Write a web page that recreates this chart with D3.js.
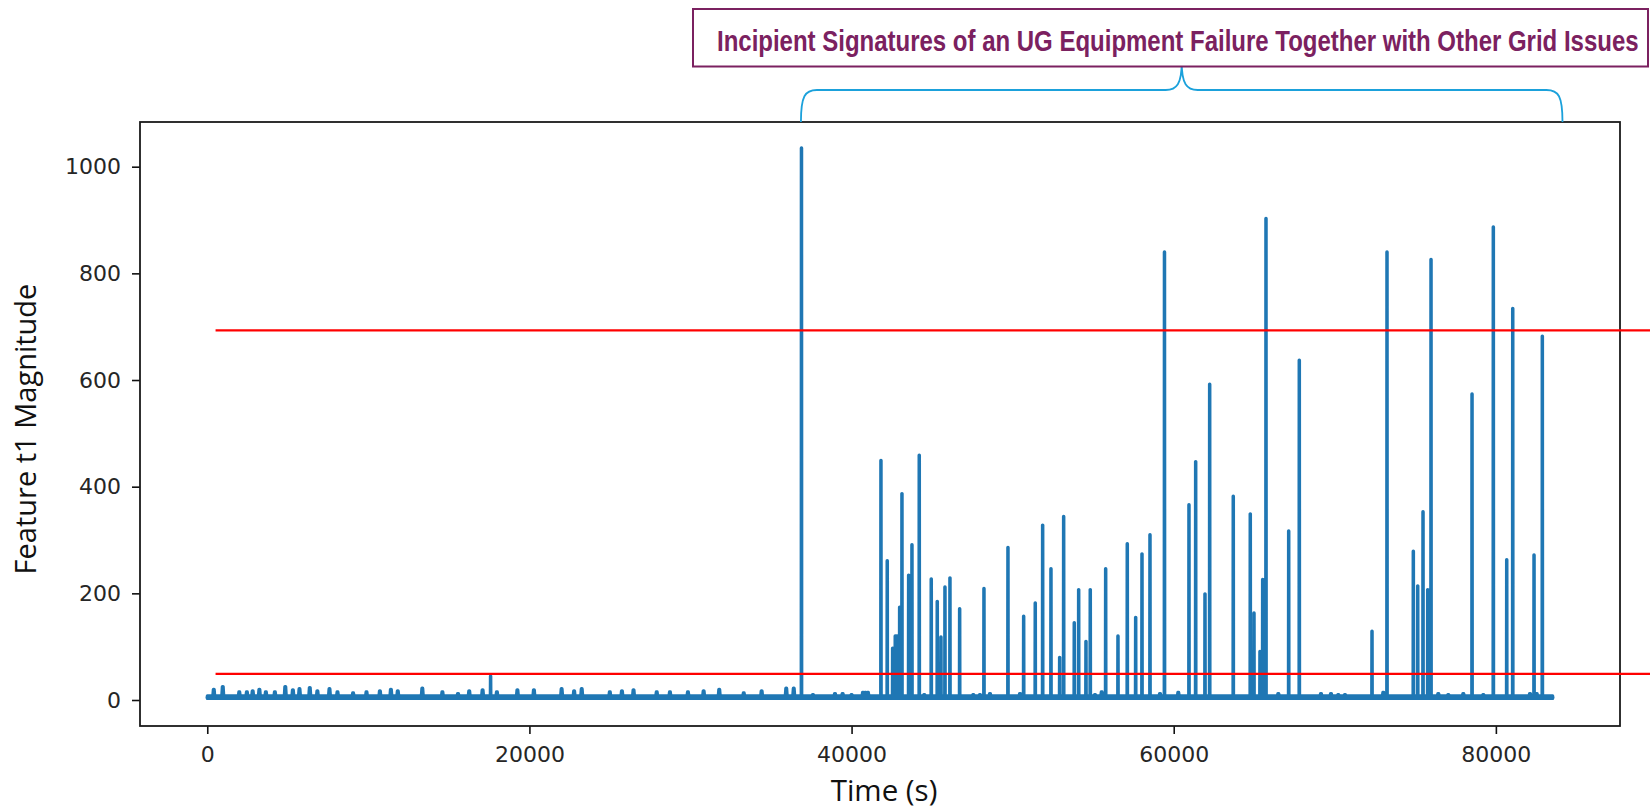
<!DOCTYPE html>
<html>
<head>
<meta charset="utf-8">
<script src="https://cdn.jsdelivr.net/npm/d3@7"></script>
<style>
  body { margin: 0; background: #fff; }
  svg { display: block; }
</style>
</head>
<body>
<svg class="chart"></svg>
<script>
// tick labels
var xTicks = [0, 20000, 40000, 60000, 80000];
var yTicks = [0, 200, 400, 600, 800, 1000];

// thresholds (red lines) and where they start / stop on the time axis
var thresholds = [693, 49];
var thresholdSpan = [515, 90000];

// recording length and the quiet baseline level
var timeSpan = [0, 83530];
var baseLevel = 5;
var noiseBand = [3, 8];

// small bumps on the baseline: [time (s), magnitude]
var bumps = [
  [404, 20], [962, 25], [1987, 15], [2459, 15], [2819, 17], [3235, 20], [3638, 15],
  [4197, 15], [4843, 25], [5315, 19], [5725, 21], [6364, 23], [6836, 17], [7587, 21],
  [8084, 15], [9053, 13], [9885, 15], [10717, 17], [11400, 20], [11828, 17], [13350, 22],
  [14597, 15], [15566, 12], [16262, 17], [17093, 19], [17981, 15], [19254, 19],
  [20278, 19], [21999, 21], [22775, 17], [23247, 21], [24991, 15], [25743, 17], [26463, 19],
  [27903, 15], [28723, 15], [29841, 15], [30815, 17], [31784, 20], [33305, 13], [34416, 17],
  [35944, 22], [36410, 22], [37602, 10], [38970, 12], [39444, 12], [40000, 10], [40707, 14],
  [40860, 14], [41017, 14], [44512, 10], [47556, 10], [47970, 10], [48593, 12], [50457, 12],
  [55112, 10], [55528, 15], [59148, 12], [60283, 14], [66493, 12], [69142, 12], [69763, 12],
  [70216, 10], [70632, 10], [73010, 14], [76425, 12], [77046, 10], [77978, 12], [79220, 10],
  [82118, 12], [82534, 12]
];

// sharp events: [time (s), magnitude]
var spikes = [
  [17590, 45], [36890, 1035],
  [41824, 449], [42215, 261], [42550, 97], [42712, 120], [42805, 120], [42898, 120],
  [42985, 174], [43128, 387], [43544, 234], [43749, 291], [44202, 459], [44947, 227],
  [45320, 185], [45549, 118], [45798, 212], [46108, 229], [46710, 171], [48219, 209],
  [49709, 286], [50684, 157], [51404, 182], [51863, 328], [52379, 246], [52919, 80],
  [53167, 344], [53826, 145], [54099, 207], [54552, 110], [54819, 207], [55775, 246],
  [56539, 120], [57117, 293], [57638, 155], [58030, 274], [58526, 310], [59426, 840],
  [60947, 366], [61363, 447], [61941, 199], [62232, 592], [63697, 382], [64753, 349],
  [64983, 163], [65355, 91], [65523, 226], [65728, 903], [67138, 317], [67796, 637],
  [72310, 129], [73241, 840], [74875, 279], [75148, 214], [75477, 353], [75769, 207],
  [75974, 826], [78520, 574], [79842, 887], [80674, 263], [81047, 734], [82369, 272],
  [82884, 682]
];

// annotation
var boxTitle = "Incipient Signatures of an UG Equipment Failure Together with Other Grid Issues";
var braceSpan = [36856, 84136];
var xLabel = "Time (s)";
var yLabel = "Feature t1 Magnitude";

var svgWidth = 1650, svgHeight = 809;
var margin = { top: 122, right: 30, bottom: 83, left: 140 };
var width = svgWidth - margin.left - margin.right;
var height = svgHeight - margin.top - margin.bottom;

var blue = "#1f77b4", purple = "#7b2160", cyan = "#1ba1db";

var svg = d3.select(".chart")
    .attr("width", svgWidth)
    .attr("height", svgHeight);

var g = svg.append("g")
    .attr("transform", "translate(" + margin.left + "," + margin.top + ")");

var x = d3.scaleLinear()
    .domain([-4176, 87706])
    .range([0, width]);

var y = d3.scaleLinear()
    .domain([-48.75, 1083.8])
    .range([height, 0]);

// build the trace from the event lists
var events = [];
bumps.forEach(function(d) { events.push({ t: d[0], v: d[1], w: 60 }); });
spikes.forEach(function(d) { events.push({ t: d[0], v: d[1], w: 12 }); });
events.sort(function(a, b) { return a.t - b.t; });

var trace = [[timeSpan[0], baseLevel]];
events.forEach(function(e) {
    trace.push([e.t - e.w, baseLevel]);
    trace.push([e.t - e.w / 3, e.v]);
    trace.push([e.t + e.w / 3, e.v]);
    trace.push([e.t + e.w, baseLevel]);
});
trace.push([timeSpan[1], baseLevel]);

// baseline noise band
var band = d3.area()
    .x(function(d) { return x(d); })
    .y0(y(noiseBand[0]))
    .y1(y(noiseBand[1]));

g.append("path")
    .datum(timeSpan)
    .attr("fill", blue)
    .attr("stroke", blue)
    .attr("stroke-width", 3)
    .attr("stroke-linejoin", "round")
    .attr("d", band);

var line = d3.line()
    .x(function(d) { return x(d[0]); })
    .y(function(d) { return y(d[1]); });

g.append("path")
    .datum(trace)
    .attr("fill", "none")
    .attr("stroke", blue)
    .attr("stroke-width", 3.4)
    .attr("stroke-linejoin", "round")
    .attr("stroke-linecap", "round")
    .attr("d", line);

// axes
var xAxis = g.append("g")
    .attr("transform", "translate(0," + height + ")")
    .call(d3.axisBottom(x).tickValues(xTicks).tickFormat(d3.format("d")).tickSize(8).tickPadding(12));

var yAxis = g.append("g")
    .call(d3.axisLeft(y).tickValues(yTicks).tickFormat(d3.format("d")).tickSize(8).tickPadding(11));

[xAxis, yAxis].forEach(function(a) {
    a.select(".domain").remove();
    a.selectAll(".tick line").attr("stroke", "#111").attr("stroke-width", 1.6);
    a.selectAll(".tick text")
        .attr("fill", "#262626")
        .style("font-family", "'DejaVu Sans', sans-serif")
        .style("font-size", "22px");
});

// frame
g.append("rect")
    .attr("width", width)
    .attr("height", height)
    .attr("fill", "none")
    .attr("stroke", "#1a1a1a")
    .attr("stroke-width", 1.8);

// threshold lines, drawn over the frame like the original overlay
g.selectAll(".threshold")
    .data(thresholds)
    .enter()
    .append("line")
    .attr("class", "threshold")
    .attr("x1", x(thresholdSpan[0]))
    .attr("x2", x(thresholdSpan[1]))
    .attr("y1", function(d) { return y(d); })
    .attr("y2", function(d) { return y(d); })
    .attr("stroke", "#ff0000")
    .attr("stroke-width", 2.4);

// axis labels
svg.append("text")
    .attr("x", 884)
    .attr("y", 801)
    .attr("text-anchor", "middle")
    .attr("fill", "#111")
    .style("font-family", "'Open Sans', sans-serif")
    .style("font-size", "29.5px")
    .text(xLabel);

svg.append("text")
    .attr("transform", "translate(36,429) rotate(-90)")
    .attr("text-anchor", "middle")
    .attr("fill", "#111")
    .style("font-family", "'Open Sans', sans-serif")
    .style("font-size", "29px")
    .text(yLabel);

// curly brace above the plot
var bx0 = margin.left + x(braceSpan[0]);
var bx1 = margin.left + x(braceSpan[1]);
var bm = (bx0 + bx1) / 2;
var yTip = margin.top, yBar = 90, yTop = 62;
var brace = "M" + bx0 + "," + yTip +
    " C" + bx0 + "," + (yBar + 6) + " " + (bx0 + 4) + "," + yBar + " " + (bx0 + 16) + "," + yBar +
    " L" + (bm - 16) + "," + yBar +
    " C" + (bm - 5) + "," + yBar + " " + bm + "," + (yBar - 6) + " " + bm + "," + yTop +
    " C" + bm + "," + (yBar - 6) + " " + (bm + 5) + "," + yBar + " " + (bm + 16) + "," + yBar +
    " L" + (bx1 - 16) + "," + yBar +
    " C" + (bx1 - 4) + "," + yBar + " " + bx1 + "," + (yBar + 6) + " " + bx1 + "," + yTip;

svg.append("path")
    .attr("d", brace)
    .attr("fill", "none")
    .attr("stroke", cyan)
    .attr("stroke-width", 1.8);

// title box
svg.append("rect")
    .attr("x", 693)
    .attr("y", 9)
    .attr("width", 955)
    .attr("height", 57.5)
    .attr("fill", "#fff")
    .attr("stroke", purple)
    .attr("stroke-width", 2);

// narrow bold title: size the font so it spans the box, then stretch it back up
var titleWidth = 922, titleSize = 29.5, titleX = 717, titleY = 50.5;
var title = svg.append("text")
    .attr("fill", purple)
    .style("font-family", "'Liberation Sans Narrow', 'Arial Narrow', 'Liberation Sans', sans-serif")
    .style("font-weight", "bold")
    .style("font-size", titleSize + "px")
    .text(boxTitle);

var natural = title.node().getComputedTextLength();
var k = Math.min(1, titleWidth / natural);
title.style("font-size", (titleSize * k) + "px")
    .attr("transform", "translate(" + titleX + "," + titleY + ") scale(1," + (1 / k) + ")");
</script>
</body>
</html>
